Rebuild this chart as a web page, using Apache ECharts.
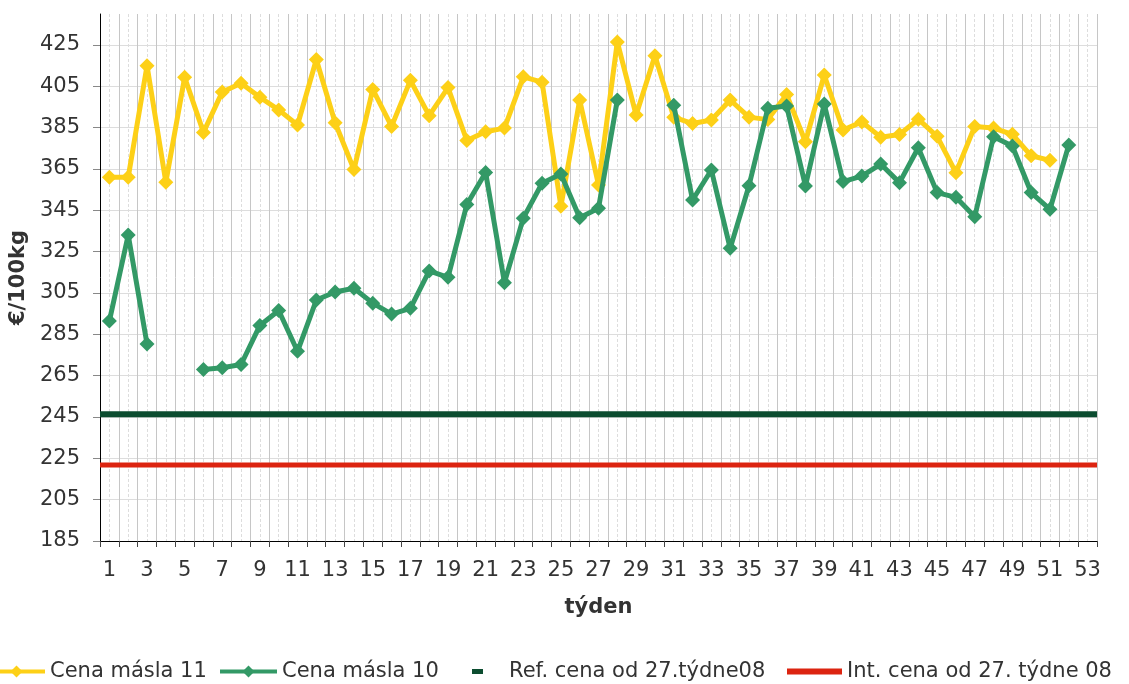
<!DOCTYPE html>
<html>
<head>
<meta charset="utf-8">
<title>Cena másla</title>
<script src="https://cdn.jsdelivr.net/npm/echarts@6/dist/echarts.min.js"></script>
<style>
html, body { margin: 0; padding: 0; background: #fff; }
#chart { width: 1129px; height: 684px; }
</style>
</head>
<body>
<div id="chart"></div>
<script>
// týdny
const weeks = ['1', '2', '3', '4', '5', '6', '7', '8', '9', '10', '11', '12', '13', '14', '15', '16', '17', '18', '19', '20',
  '21', '22', '23', '24', '25', '26', '27', '28', '29', '30', '31', '32', '33', '34', '35', '36', '37', '38', '39', '40',
  '41', '42', '43', '44', '45', '46', '47', '48', '49', '50', '51', '52', '53']

// Cena másla 11 (€/100kg)
const butter11 = [361, 361, 415, 358.6, 409.4, 382.7, 402.3, 406.5, 399.7, 393.6,
  386.3, 418, 387.4, 364.7, 403.5, 385.6, 407.9, 390.8, 404.4, 378.8,
  383, 384.8, 409.6, 407, 347, 398.4, 357.3, 426.5, 391.1, 419.8,
  390.1, 387, 388.7, 398.4, 390.1, 388.9, 401, 378.2, 410.5, 383.9,
  387.8, 380.4, 381.7, 389.1, 380.8, 363.2, 385.6, 384.8, 381.8, 371.4,
  369.2, null, null]

// Cena másla 10 (€/100kg)
const butter10 = [291.5, 333.1, 280.3, null, null, 268, 268.8, 270.4, 289.3, 296.5,
  276.8, 301.6, 305.5, 307.3, 300.1, 294.8, 297.6, 315.7, 312.6, 347.8,
  363.3, 310, 341.2, 358.1, 362.6, 341.4, 346, 398.4, null, null,
  395.8, 350, 364.5, 326.6, 356.9, 394.4, 395.5, 356.8, 396.4, 358.9,
  361.6, 367.4, 358.4, 375.3, 353.6, 351.3, 341.9, 380.6, 376.1, 353.6,
  345.5, 376.6, null]

// referenční a intervenční cena
const refPrice = [246.39, 246.39]
const intPrice = [221.75, 221.75]
const priceSpan = [0, 53] // přes celou šířku grafu

const font = 'DejaVu Sans'
const textColor = '#333333'
const legendText = { fontFamily: font, fontSize: 21, color: textColor }

const chart = echarts.init(document.getElementById('chart'))

const option = {
  animation: false,
  textStyle: { fontFamily: font },
  grid: { left: 100, right: 32, top: 14, bottom: 143, containLabel: false },
  legend: [
    {
      data: ['Cena másla 11'], left: -14, top: 661, padding: 0, itemWidth: 57, itemHeight: 15,
      lineStyle: { width: 4 }, textStyle: legendText
    },
    {
      data: ['Cena másla 10'], left: 218, top: 661, padding: 0, itemWidth: 57, itemHeight: 15,
      lineStyle: { width: 4 }, textStyle: legendText
    },
    {
      data: [{ name: 'Ref. cena od 27.týdne08', icon: 'rect' }],
      left: 472, top: 661, padding: 0, itemWidth: 11, itemHeight: 5,
      textStyle: Object.assign({}, legendText, { padding: [0, 0, 0, 21] })
    },
    {
      data: [{ name: 'Int. cena od 27. týdne 08', icon: 'rect' }],
      left: 787, top: 661, padding: 0, itemWidth: 55, itemHeight: 6, textStyle: legendText
    }
  ],
  xAxis: [
    {
      type: 'category',
      data: weeks,
      boundaryGap: true,
      name: 'týden',
      nameLocation: 'middle',
      nameGap: 56,
      nameTextStyle: { fontSize: 21, fontWeight: 'bold', color: textColor, fontFamily: font },
      axisLine: { lineStyle: { color: '#000', width: 1 } },
      axisTick: { show: true, interval: 0, length: 6, lineStyle: { color: '#444' } },
      axisLabel: { interval: 1, fontSize: 21, color: textColor, margin: 19 },
      splitLine: { show: false }
    },
    {
      // pomocná osa - svislá mřížka
      type: 'value',
      min: 0,
      max: 53,
      interval: 1,
      position: 'bottom',
      axisLine: { show: false },
      axisTick: { show: false },
      axisLabel: { show: false },
      splitLine: { show: true, lineStyle: { color: '#c6c6c6', width: 1 } },
      minorTick: { show: false, splitNumber: 2 },
      minorSplitLine: { show: true, lineStyle: { color: '#dddddd', width: 1, type: [3, 2] } }
    }
  ],
  yAxis: {
    type: 'value',
    min: 185,
    max: 440,
    interval: 20,
    name: '€/100kg',
    nameLocation: 'middle',
    nameGap: 68,
    nameTextStyle: { fontSize: 21, fontWeight: 'bold', color: textColor, fontFamily: font },
    axisLine: { show: true, lineStyle: { color: '#000', width: 1 } },
    axisTick: { show: true, length: 7, lineStyle: { color: '#888' } },
    axisLabel: { fontSize: 21, color: textColor, margin: 20, showMaxLabel: false },
    splitLine: { show: true, showMaxLine: false, lineStyle: { color: '#dddddd', width: 1 } }
  },
  series: [
    {
      name: 'Ref. cena od 27.týdne08',
      type: 'line',
      xAxisIndex: 1,
      data: priceSpan.map((x, i) => [x, refPrice[i]]),
      symbol: 'none',
      lineStyle: { color: '#0c4d30', width: 6 },
      itemStyle: { color: '#0c4d30' },
      z: 2
    },
    {
      name: 'Int. cena od 27. týdne 08',
      type: 'line',
      xAxisIndex: 1,
      data: priceSpan.map((x, i) => [x, intPrice[i]]),
      symbol: 'none',
      lineStyle: { color: '#dc2410', width: 5 },
      itemStyle: { color: '#dc2410' },
      z: 2
    },
    {
      name: 'Cena másla 11',
      type: 'line',
      data: butter11,
      connectNulls: false,
      showAllSymbol: true,
      symbol: 'diamond',
      symbolSize: 15,
      lineStyle: { color: '#fdd017', width: 5 },
      itemStyle: { color: '#fdd017' },
      z: 3
    },
    {
      name: 'Cena másla 10',
      type: 'line',
      data: butter10,
      connectNulls: false,
      showAllSymbol: true,
      symbol: 'diamond',
      symbolSize: 15,
      lineStyle: { color: '#339966', width: 5 },
      itemStyle: { color: '#339966' },
      z: 4
    }
  ]
}

chart.setOption(option)
</script>
</body>
</html>
